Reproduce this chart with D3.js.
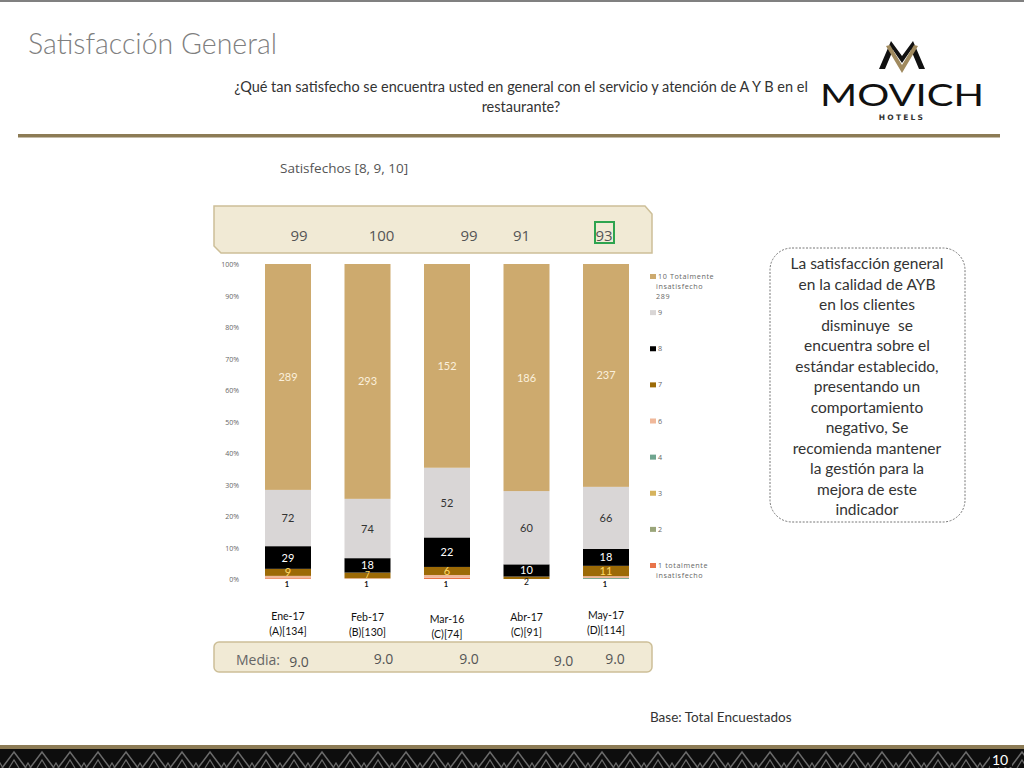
<!DOCTYPE html>
<html>
<head>
<meta charset="utf-8">
<script src="https://cdn.jsdelivr.net/npm/d3@7"></script>
<style>
  body { margin: 0; background: #fff; }
  svg { display: block; }
</style>
</head>
<body>
<svg id="chart" width="1024" height="768"></svg>
<script>
// chart data
const months = ["Ene-17", "Feb-17", "Mar-16", "Abr-17", "May-17"];
const bases = ["(A)[134]", "(B)[130]", "(C)[74]", "(C)[91]", "(D)[114]"];
const satisfied = ["99", "100", "99", "91", "93"];
const media = ["9.0", "9.0", "9.0", "9.0", "9.0"];

// series, bottom to top
const series = ["1 totalmente insatisfecho", "2", "3", "4", "6", "7", "8", "9", "10 Totalmente insatisfecho 289"];
const s1 = [1, 0, 1, 0, 0];
const s2 = [0, 0, 0, 0, 0];
const s3 = [0, 0, 0, 0, 0];
const s4 = [0, 0, 0, 0, 1];
const s6 = [3, 1, 2, 0, 2];
const s7 = [9, 7, 6, 2, 11];
const s8 = [29, 18, 22, 10, 18];
const s9 = [72, 74, 52, 60, 66];
const s10 = [289, 293, 152, 186, 237];
const yTicks = [0, 0.1, 0.2, 0.3, 0.4, 0.5, 0.6, 0.7, 0.8, 0.9, 1];

const colors = ["#e8744a", "#9aa57a", "#d6b35d", "#6fa58f", "#f0b89a", "#9c6a06", "#000000", "#d9d6d6", "#cdaa6e"];
const labelColors = ["#111", "#111", "#111", "#111", "#111", "#ffd966", "#ffffff", "#333333", "#fbf0dc"];
const legendOrder = [8, 7, 6, 5, 4, 3, 2, 1, 0];

const svg = d3.select("#chart");
const calibri = "Lato, 'Open Sans', sans-serif";
const gothic = "'Open Sans', 'DejaVu Sans', sans-serif";

// top grey border
svg.append("rect").attr("x", 0).attr("y", 0).attr("width", 1024).attr("height", 2).attr("fill", "#808080");

// title and question
svg.append("text").attr("x", 28).attr("y", 54)
  .attr("font-family", calibri).attr("font-weight", 300).attr("font-size", 28.5)
  .attr("fill", "#7f7f7f").text("Satisfacción General");

const q = svg.append("text").attr("font-family", calibri).attr("font-size", 14.5)
  .attr("fill", "#333").attr("text-anchor", "middle");
q.append("tspan").attr("x", 521).attr("y", 92)
  .text("¿Qué tan satisfecho se encuentra usted en general con el servicio y atención de A Y B en el");
q.append("tspan").attr("x", 521).attr("y", 112).text("restaurante?");

svg.append("rect").attr("x", 18).attr("y", 134).attr("width", 982).attr("height", 3.5).attr("fill", "#8c7b55");

// logo
const logo = svg.append("g");
logo.append("path")
  .attr("d", "M879,69 L891,41 L902,56 L913,41 L925,69 L919,69 L911,50 L902,63 L893,50 L885,69 Z")
  .attr("fill", "#111");
logo.append("path")
  .attr("d", "M886,46 L902,73 L918,46 L914,45 L902,65 L890,45 Z")
  .attr("fill", "#a08a5e");
logo.append("text").attr("x", 820).attr("y", 106)
  .attr("font-family", "Lato, sans-serif").attr("font-size", 31)
  .attr("textLength", 164).attr("lengthAdjust", "spacingAndGlyphs")
  .attr("fill", "#111").text("MOVICH");
logo.append("text").attr("x", 902).attr("y", 120).attr("text-anchor", "middle")
  .attr("font-family", "'DejaVu Sans', sans-serif").attr("font-weight", "bold").attr("font-size", 7.5)
  .attr("letter-spacing", 2.2).attr("fill", "#333").text("HOTELS");

// subtitle
svg.append("text").attr("x", 280).attr("y", 173)
  .attr("font-family", gothic).attr("font-size", 13.5).attr("fill", "#555")
  .text("Satisfechos [8, 9, 10]");

// scales
const x = d3.scalePoint().domain(months).range([288, 606]);
const y = d3.scaleLinear().domain([0, 1]).range([579, 264]);
const barW = 46;

// top band
svg.append("path")
  .attr("d", "M214,206 L645,206 L652,214 L652,253 L221,253 L214,246 Z")
  .attr("fill", "#f1ead5").attr("stroke", "#cdbf98").attr("stroke-width", 1.5);
const satShift = [11, 14, 22, -5, -2];
svg.selectAll(".sat").data(satisfied).join("text")
  .attr("x", (d, i) => x(months[i]) + satShift[i]).attr("y", 241)
  .attr("text-anchor", "middle").attr("font-family", gothic).attr("font-size", 15)
  .attr("fill", "#555").text(d => d);
svg.append("rect").attr("x", x(months[4]) - 11).attr("y", 222).attr("width", 19).attr("height", 21)
  .attr("fill", "none").attr("stroke", "#2ea44f").attr("stroke-width", 2);

// stacked bars
const table = months.map((m, i) => {
  const row = { month: m };
  [s1, s2, s3, s4, s6, s7, s8, s9, s10].forEach((s, k) => row[series[k]] = s[i]);
  return row;
});
const stacked = d3.stack().keys(series)
  .offset(d3.stackOffsetExpand)(table);

const g = svg.append("g");
stacked.forEach((layer, k) => {
  g.selectAll(null).data(layer).join("rect")
    .attr("x", d => x(d.data.month) - barW / 2)
    .attr("y", d => y(d[1]))
    .attr("width", barW)
    .attr("height", d => y(d[0]) - y(d[1]))
    .attr("fill", colors[k]);
});
// big segments get centred labels
const segH = d => y(d[0]) - y(d[1]);
stacked.slice(5).forEach((layer, j) => {
  const k = j + 5;
  g.selectAll(null).data(layer.filter(d => d.data[series[k]] > 0)).join("text")
    .attr("x", d => x(d.data.month))
    .attr("y", d => segH(d) < 4 ? y(d[0]) + 6 : (y(d[0]) + y(d[1])) / 2 + (segH(d) < 7 ? 3 : 4))
    .attr("text-anchor", "middle")
    .attr("font-family", calibri).attr("font-size", d => segH(d) < 7 ? 8.5 : 11)
    .attr("fill", d => segH(d) < 4 ? "#111" : labelColors[k])
    .text(d => d.data[series[k]]);
});
// tiny segments: one small label hanging under the base
months.forEach((m, i) => {
  const k = [0, 1, 2, 3, 4].find(s => stacked[s][i].data[series[s]] > 0);
  if (k === undefined) return;
  g.append("text").attr("x", x(m) - 1).attr("y", 587)
    .attr("text-anchor", "middle").attr("font-family", calibri)
    .attr("font-size", 7.5).attr("font-weight", "bold").attr("fill", labelColors[k])
    .text(stacked[k][i].data[series[k]]);
});

// y axis
svg.selectAll(".ytick").data(yTicks).join("text")
  .attr("x", 239).attr("y", d => y(d) + 3)
  .attr("text-anchor", "end").attr("font-family", gothic).attr("font-size", 7)
  .attr("fill", "#666").text(d => d3.format(".0%")(d));

// legend
const leg = svg.append("g").attr("font-family", gothic).attr("font-size", 7.2).attr("fill", "#666");
const legY = d3.scaleLinear().domain([0, 8]).range([277, 566]);
legendOrder.forEach((k, j) => {
  const ly = legY(j);
  leg.append("rect").attr("x", 650).attr("y", ly - 3).attr("width", 6).attr("height", 5).attr("fill", colors[k]);
  const words = k === 8 ? ["10 Totalmente", "insatisfecho", "289"]
    : k === 0 ? ["1 totalmente", "insatisfecho"] : [series[k]];
  words.forEach((w, wi) => {
    leg.append("text").attr("x", wi === 0 ? 658 : 656).attr("y", ly + 2 + wi * 10)
      .attr("letter-spacing", 0.6).text(w);
  });
});

// x labels
months.forEach((m, i) => {
  const dy = [0, 1, 3, 1, -1][i];
  const t = svg.append("text").attr("text-anchor", "middle").attr("font-family", calibri)
    .attr("font-size", 10.5).attr("fill", "#111");
  t.append("tspan").attr("x", x(m)).attr("y", 620 + dy).text(m);
  t.append("tspan").attr("x", x(m)).attr("y", 635 + dy).text(bases[i]);
});

// media band
svg.append("rect").attr("x", 214).attr("y", 642).attr("width", 438).attr("height", 30).attr("rx", 5)
  .attr("fill", "#f1ead5").attr("stroke", "#cdbf98").attr("stroke-width", 1.5);
svg.append("text").attr("x", 236).attr("y", 665).attr("font-family", gothic).attr("font-size", 14)
  .attr("fill", "#666").text("Media:");
const mediaShift = [11, 16, 22, 37, 9];
const mediaDy = [3, 0, 0, 2, 0];
svg.selectAll(".media").data(media).join("text")
  .attr("x", (d, i) => x(months[i]) + mediaShift[i]).attr("y", (d, i) => 664 + mediaDy[i])
  .attr("text-anchor", "middle").attr("font-family", gothic).attr("font-size", 14)
  .attr("fill", "#555").text(d => d);

// comment box
svg.append("rect").attr("x", 770).attr("y", 248).attr("width", 195).attr("height", 274).attr("rx", 22)
  .attr("fill", "#fff").attr("stroke", "#777").attr("stroke-width", 1).attr("stroke-dasharray", "2,1.5");
const note = ["La satisfacción general", "en la calidad de AYB", "en los clientes", "disminuye  se",
  "encuentra sobre el", "estándar establecido,", "presentando un", "comportamiento", "negativo, Se",
  "recomienda mantener", "la gestión para la", "mejora de este", "indicador"];
svg.append("text").attr("text-anchor", "middle").attr("font-family", calibri).attr("font-size", 15.5)
  .attr("fill", "#333").style("white-space", "pre")
  .selectAll("tspan").data(note).join("tspan")
  .attr("x", 867).attr("y", (d, i) => 269 + i * 20.5).text(d => d);

// base
svg.append("text").attr("x", 650).attr("y", 722).attr("font-family", calibri).attr("font-size", 13.5)
  .attr("fill", "#333").text("Base: Total Encuestados");

// footer
svg.append("rect").attr("x", 0).attr("y", 745).attr("width", 1024).attr("height", 4).attr("fill", "#8c7b55");
svg.append("rect").attr("x", 0).attr("y", 749).attr("width", 1024).attr("height", 19).attr("fill", "#0d0d0d");
const pat = svg.append("defs").append("pattern").attr("id", "zig")
  .attr("patternUnits", "userSpaceOnUse").attr("x", 0).attr("y", 749).attr("width", 28).attr("height", 19);
pat.append("path").attr("d", "M2,19 L14,3 L26,19").attr("fill", "none").attr("stroke", "#6a6a6a").attr("stroke-width", 1.5);
pat.append("path").attr("d", "M9,19 L14,11 L19,19").attr("fill", "none").attr("stroke", "#6a6a6a").attr("stroke-width", 1.2);
pat.append("path").attr("d", "M-3,19 L0,14 L3,19 M25,19 L28,14 L31,19").attr("fill", "none").attr("stroke", "#6a6a6a").attr("stroke-width", 1.2);
svg.append("rect").attr("x", 0).attr("y", 749).attr("width", 1024).attr("height", 19).attr("fill", "url(#zig)");
svg.append("rect").attr("x", 990).attr("y", 750).attr("width", 22).attr("height", 17).attr("fill", "#0d0d0d");
svg.append("text").attr("x", 1000).attr("y", 765).attr("text-anchor", "middle").attr("font-family", calibri)
  .attr("font-size", 14).attr("fill", "#fff").text("10");
</script>
</body>
</html>
